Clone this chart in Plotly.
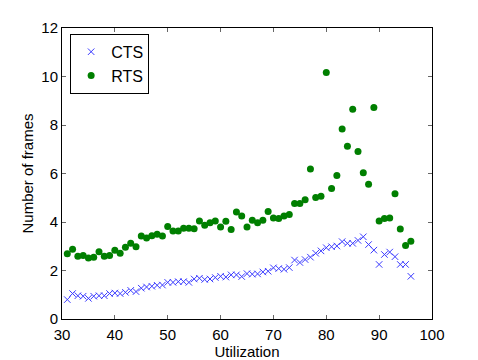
import plotly.graph_objects as go

x_util = list(range(31, 97))

cts = [0.80, 1.05, 0.96, 0.94, 0.85, 0.94, 0.96, 0.96, 1.05, 1.07,
       1.05, 1.10, 1.18, 1.13, 1.27, 1.32, 1.35, 1.39, 1.40, 1.51,
       1.51, 1.54, 1.54, 1.51, 1.65, 1.68, 1.63, 1.65, 1.71, 1.76,
       1.73, 1.82, 1.82, 1.75, 1.87, 1.85, 1.86, 1.94, 1.97, 2.11,
       2.08, 2.05, 2.12, 2.43, 2.33, 2.45, 2.55, 2.71, 2.81, 2.94,
       2.98, 3.01, 3.19, 3.12, 3.12, 3.24, 3.39, 3.07, 2.84, 2.25,
       2.66, 2.76, 2.57, 2.25, 2.25, 1.76]

rts = [2.69, 2.88, 2.59, 2.62, 2.52, 2.55, 2.77, 2.59, 2.62, 2.83,
       2.71, 2.96, 3.12, 2.98, 3.42, 3.34, 3.43, 3.50, 3.42, 3.81,
       3.63, 3.63, 3.74, 3.74, 3.72, 4.04, 3.87, 3.97, 4.04, 3.79,
       4.03, 3.69, 4.41, 4.25, 3.79, 4.07, 3.97, 4.07, 4.43, 4.16,
       4.14, 4.25, 4.31, 4.76, 4.76, 4.92, 6.19, 5.01, 5.06, 10.16,
       5.38, 5.92, 7.83, 7.12, 8.65, 6.91, 6.03, 5.56, 8.72, 4.04,
       4.14, 4.16, 5.16, 3.71, 3.03, 3.21]

x_ticks = [30, 40, 50, 60, 70, 80, 90, 100]
y_ticks = [0, 2, 4, 6, 8, 10, 12]

fig = go.Figure()
fig.add_trace(go.Scatter(
    x=x_util, y=cts, mode="markers", name="CTS",
    marker=dict(symbol="x-thin", size=6.5, color="#2020ff",
                line=dict(width=1, color="#3a3aff")),
))
fig.add_trace(go.Scatter(
    x=x_util, y=rts, mode="markers", name="RTS",
    marker=dict(symbol="circle", size=7, color="#007f00", line=dict(width=0)),
))

axis_common = dict(
    showgrid=False, zeroline=False, showline=True, linecolor="black",
    linewidth=1, mirror="ticks", ticks="inside", ticklen=4,
    tickcolor="#666666", tickwidth=1, automargin=False,
    tickfont=dict(family="Liberation Sans, Arial, sans-serif", size=15, color="black"),
)

fig.update_layout(
    width=478, height=360,
    margin=dict(l=54, r=54, t=20, b=49),
    paper_bgcolor="white", plot_bgcolor="white",
    font=dict(family="Liberation Sans, Arial, sans-serif", size=15, color="black"),
    xaxis=dict(range=[30, 100], tickvals=x_ticks, ticklabelstandoff=2,
               title=dict(text="Utilization", standoff=0,
                          font=dict(size=15)), **axis_common),
    yaxis=dict(range=[0, 12], tickvals=y_ticks,
               title=dict(text="Number of frames", standoff=4,
                          font=dict(size=15)), **axis_common),
    showlegend=True,
    legend=dict(x=0.022, y=0.98, xanchor="left", yanchor="top",
                bgcolor="white", bordercolor="black", borderwidth=1,
                font=dict(size=16), itemwidth=30,
                tracegroupgap=0),
)

fig.write_html("out.html")
